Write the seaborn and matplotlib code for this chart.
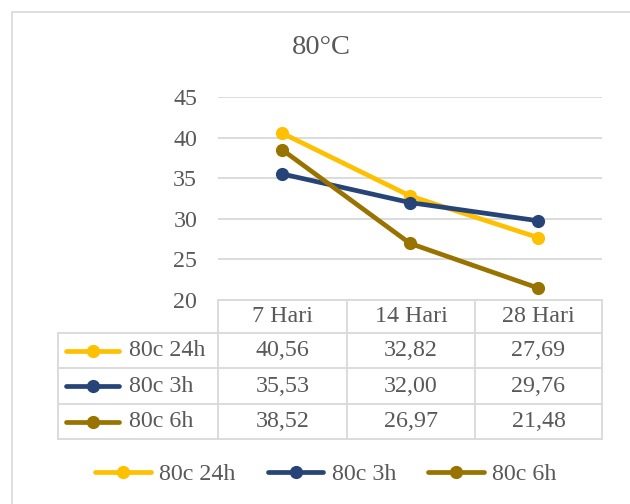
import matplotlib
matplotlib.use("Agg")
import matplotlib.pyplot as plt
import matplotlib.patches as mpatches
from matplotlib.lines import Line2D
import seaborn as sns
import pandas as pd

# Data
periods = ["7 Hari", "14 Hari", "28 Hari"]
series_names = ["80c 24h", "80c 3h", "80c 6h"]
vals_24h = [40.56, 32.82, 27.69]
vals_3h = [35.53, 32.00, 29.76]
vals_6h = [38.52, 26.97, 21.48]
y_ticks = [20, 25, 30, 35, 40, 45]
title = "80°C"

colors = ["#FFC000", "#264478", "#997300"]
text_color = "#595959"
grid_color = "#D9D9D9"
fs = 17.3

sns.set_theme(style="white")
plt.rcParams["font.family"] = ["Liberation Serif", "DejaVu Serif"]

all_vals = [vals_24h, vals_3h, vals_6h]
df = pd.DataFrame({
    "periode": periods * 3,
    "nilai": vals_24h + vals_3h + vals_6h,
    "seri": [s for s in series_names for _ in periods],
})

W, H = 630, 504
fig = plt.figure(figsize=(W / 100, H / 100), dpi=100)

def fx(px):
    return px / W

def fy(py):
    return 1 - py / H

# chart frame
fig.patches.append(mpatches.Rectangle((fx(12), fy(640)), fx(700), 628 / H,
                                      transform=fig.transFigure, fill=False,
                                      edgecolor=grid_color, linewidth=1.2))

# plot area
left, right, top, bottom = 218, 602, 97, 300
ax = fig.add_axes([fx(left), fy(bottom), fx(right - left), (bottom - top) / H])

sns.lineplot(data=df, x="periode", y="nilai", hue="seri", palette=colors,
             marker="o", markersize=9.5, markeredgewidth=0, linewidth=3.4,
             sort=False, ax=ax, legend=False)

ax.set_xlim(-0.5, len(periods) - 0.5)
ax.set_ylim(y_ticks[0], y_ticks[-1])
ax.set_yticks(y_ticks)
ax.set_yticklabels([str(t) for t in y_ticks], fontsize=fs, color=text_color)
ax.tick_params(axis="y", length=0, pad=15)
ax.set_xticks([])
ax.set_xlabel("")
ax.set_ylabel("")
for t in y_ticks:
    ax.axhline(t, color=grid_color, linewidth=1.3, zorder=0)
for s in ax.spines.values():
    s.set_visible(False)
ax.set_facecolor("none")

fig.text(fx(321), fy(48), title, ha="center", va="center", fontsize=20.5,
         color=text_color)

# data table below the plot
col_edges = [218, 347, 475, 602]
row_edges = [300, 333, 368, 404, 439]
table_left = 58
lw = 1.3

def hline(y, x0, x1):
    fig.add_artist(Line2D([fx(x0), fx(x1)], [fy(y), fy(y)], color=grid_color,
                          linewidth=lw, transform=fig.transFigure))

def vline(x, y0, y1):
    fig.add_artist(Line2D([fx(x), fx(x)], [fy(y0), fy(y1)], color=grid_color,
                          linewidth=lw, transform=fig.transFigure))

hline(row_edges[0], col_edges[0], col_edges[-1])
for y in row_edges[1:]:
    hline(y, table_left, col_edges[-1])
for x in col_edges:
    vline(x, row_edges[0], row_edges[-1])
vline(table_left, row_edges[1], row_edges[-1])

for i, p in enumerate(periods):
    cx = (col_edges[i] + col_edges[i + 1]) / 2
    cy = (row_edges[0] + row_edges[1]) / 2
    fig.text(fx(cx), fy(cy), p, ha="center", va="center", fontsize=fs,
             color=text_color)

for r, (name, vals, c) in enumerate(zip(series_names, all_vals, colors)):
    cy = (row_edges[r + 1] + row_edges[r + 2]) / 2
    fig.add_artist(Line2D([fx(66), fx(119)], [fy(cy), fy(cy)], color=c,
                          linewidth=3.4, solid_capstyle="round",
                          transform=fig.transFigure))
    fig.add_artist(Line2D([fx(92.5)], [fy(cy)], color=c, marker="o",
                          markersize=9.5, markeredgewidth=0,
                          transform=fig.transFigure))
    fig.text(fx(129), fy(cy), name, ha="left", va="center", fontsize=fs,
             color=text_color)
    for i, v in enumerate(vals):
        cx = (col_edges[i] + col_edges[i + 1]) / 2
        fig.text(fx(cx), fy(cy), f"{v:.2f}".replace(".", ","), ha="center",
                 va="center", fontsize=fs, color=text_color)

# legend at the bottom
handles = [Line2D([], [], color=c, linewidth=3.4, marker="o", markersize=9.5,
                  markeredgewidth=0, solid_capstyle="round") for c in colors]
fig.legend(handles, series_names, loc="center", bbox_to_anchor=(fx(326), fy(474)),
           ncol=3, frameon=False, fontsize=fs, labelcolor=text_color,
           handlelength=2.3, handletextpad=0.35, columnspacing=1.35,
           borderaxespad=0, borderpad=0)

fig.savefig("out.png", dpi=100)
